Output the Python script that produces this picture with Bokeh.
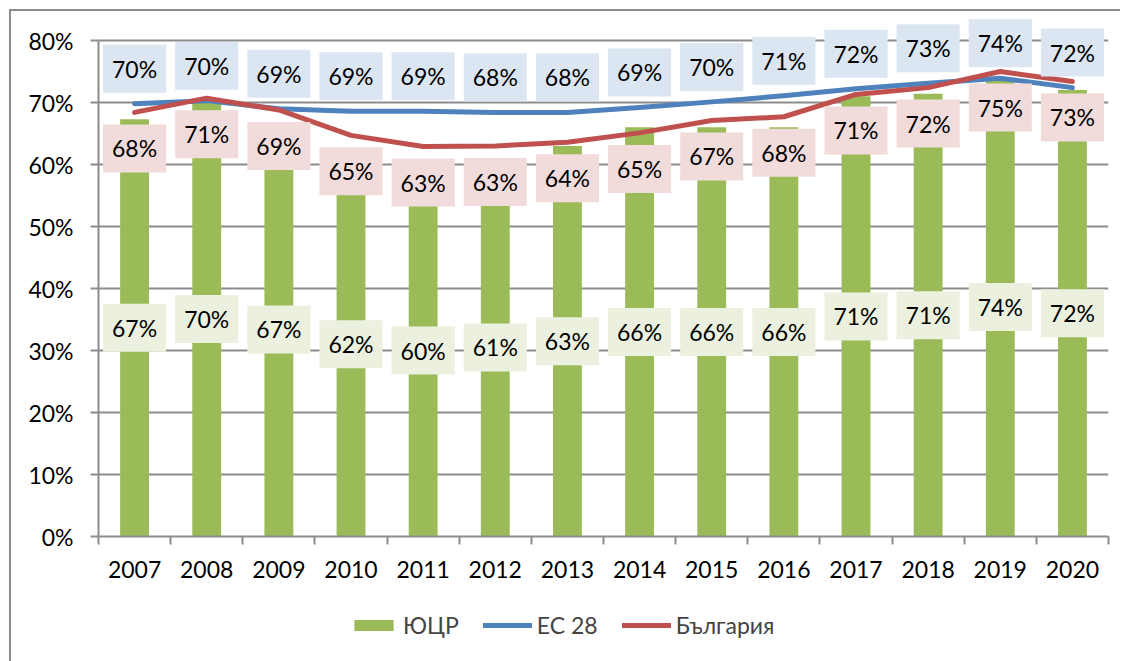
import numpy as np
from bokeh.plotting import figure
from bokeh.layouts import column
from bokeh.models import (ColumnDataSource, Label, Range1d, FixedTicker,
                          NumeralTickFormatter, Legend, LegendItem)
from bokeh.embed import file_html
from bokeh.resources import INLINE

years = ["2007", "2008", "2009", "2010", "2011", "2012", "2013",
         "2014", "2015", "2016", "2017", "2018", "2019", "2020"]
yucr = [67.3, 70.2, 66.8, 62.0, 60.0, 61.0, 63.0, 66.0, 66.0, 66.0, 71.0, 71.4, 74.0, 72.0]
eu28 = [69.8, 70.3, 69.0, 68.6, 68.6, 68.4, 68.4, 69.2, 70.1, 71.1, 72.2, 73.1, 73.9, 72.4]
bulgaria = [68.4, 70.7, 68.8, 64.7, 62.9, 63.0, 63.6, 65.1, 67.1, 67.7, 71.3, 72.4, 75.0, 73.4]
y_ticks = [0, 10, 20, 30, 40, 50, 60, 70, 80]
series_names = ["ЮЦР", "ЕС 28", "България"]

FONT = "Lato"
FS = "23px"
GREEN, BLUE, RED = "#9BBB59", "#4F81BD", "#C0504D"
GRID = "#8C8C8C"

xs = np.arange(len(years)) + 0.5
src = ColumnDataSource(dict(
    x=xs,
    yucr=np.array(yucr) / 100,
    eu=np.array(eu28) / 100,
    bg=np.array(bulgaria) / 100,
))

# axis spans 0..80% over 496 px; the frame extends 25 px above 80% so that
# the top data labels are not clipped
y_max = y_ticks[-1] / 100
px_per_unit = 496 / y_max
y_end = y_max + 25 / px_per_unit

p = figure(width=1109, height=589, output_backend="svg", toolbar_location=None,
           x_range=Range1d(0, len(years)), y_range=Range1d(0, y_end),
           min_border_left=87, min_border_top=4, min_border_right=12,
           min_border_bottom=64)
p.outline_line_color = None
p.background_fill_color = "white"
p.border_fill_color = "white"

p.vbar(x="x", top="yucr", width=0.4, source=src, fill_color=GREEN, line_color=None)
p.line("x", "eu", source=src, line_color=BLUE, line_width=5, line_join="round", line_cap="round")
p.line("x", "bg", source=src, line_color=RED, line_width=5, line_join="round", line_cap="round")

# axes
p.xaxis.ticker = FixedTicker(ticks=list(xs), minor_ticks=list(range(len(years) + 1)))
p.xaxis.major_label_overrides = {float(x): y for x, y in zip(xs, years)}
p.xaxis.major_tick_out = 0
p.xaxis.major_tick_in = 0
p.xaxis.minor_tick_out = 8
p.xaxis.minor_tick_in = 0
p.xaxis.minor_tick_line_color = GRID
p.xaxis.minor_tick_line_width = 2
p.xaxis.major_label_standoff = 16

p.yaxis.ticker = FixedTicker(ticks=[t / 100 for t in y_ticks])
p.yaxis.formatter = NumeralTickFormatter(format="0%")
p.yaxis.bounds = (0, y_max)
p.yaxis.major_tick_out = 8
p.yaxis.major_tick_in = 0
p.yaxis.minor_tick_line_color = None
p.yaxis.major_tick_line_color = GRID
p.yaxis.major_tick_line_width = 2
p.yaxis.major_label_standoff = 17

for ax in (p.xaxis, p.yaxis):
    ax.axis_line_color = GRID
    ax.axis_line_width = 2
    ax.major_label_text_font = FONT
    ax.major_label_text_font_size = FS
    ax.major_label_text_color = "black"

p.xgrid.visible = False
p.ygrid.ticker = FixedTicker(ticks=[t / 100 for t in y_ticks])
p.ygrid.grid_line_color = GRID
p.ygrid.grid_line_width = 2

def add_labels(vals, ys, bg, yoff):
    for x, v, y in zip(xs, vals, ys):
        p.add_layout(Label(x=float(x), y=float(y), y_offset=yoff, text=f"{round(v)}%",
                           text_align="center", text_baseline="middle",
                           text_font=FONT, text_font_size=FS, text_color="black",
                           background_fill_color=bg, padding=(9, 10)))

add_labels(yucr, np.array(yucr) / 200, "#EBF1DE", 0)
add_labels(bulgaria, np.array(bulgaria) / 100, "#F2DCDB", -36)
add_labels(eu28, np.array(eu28) / 100, "#DCE6F2", 35)

# legend strip (separate figure so the legend is not clipped by the plot frame);
# its renderers use the same data but its ranges keep them out of view
p2 = figure(width=1109, height=61, output_backend="svg", toolbar_location=None,
            x_axis_location=None, y_axis_location=None,
            min_border=0, x_range=Range1d(0, 1), y_range=Range1d(5, 6))
p2.outline_line_color = None
p2.grid.visible = False
l_bar = p2.vbar(x="x", top="yucr", width=0.4, source=src, fill_color=GREEN, line_color=None)
l_eu = p2.line("x", "eu", source=src, line_color=BLUE, line_width=5, line_cap="round")
l_bg = p2.line("x", "bg", source=src, line_color=RED, line_width=5, line_cap="round")
legend = Legend(items=[LegendItem(label=n, renderers=[r])
                       for n, r in zip(series_names, [l_bar, l_eu, l_bg])],
                orientation="horizontal", location=(251, 22),
                glyph_width=49, glyph_height=14, label_standoff=5, spacing=24,
                label_text_font=FONT, label_text_font_size=FS,
                border_line_color=None, background_fill_color=None, margin=0, padding=5)
p2.add_layout(legend, "center")

layout = column(p, p2, spacing=0)
layout.styles = {"margin-left": "9px", "margin-top": "9px",
                 "border-left": "2px solid #8C8C8C", "border-top": "2px solid #8C8C8C"}

open("out.html", "w").write(file_html(layout, INLINE))
